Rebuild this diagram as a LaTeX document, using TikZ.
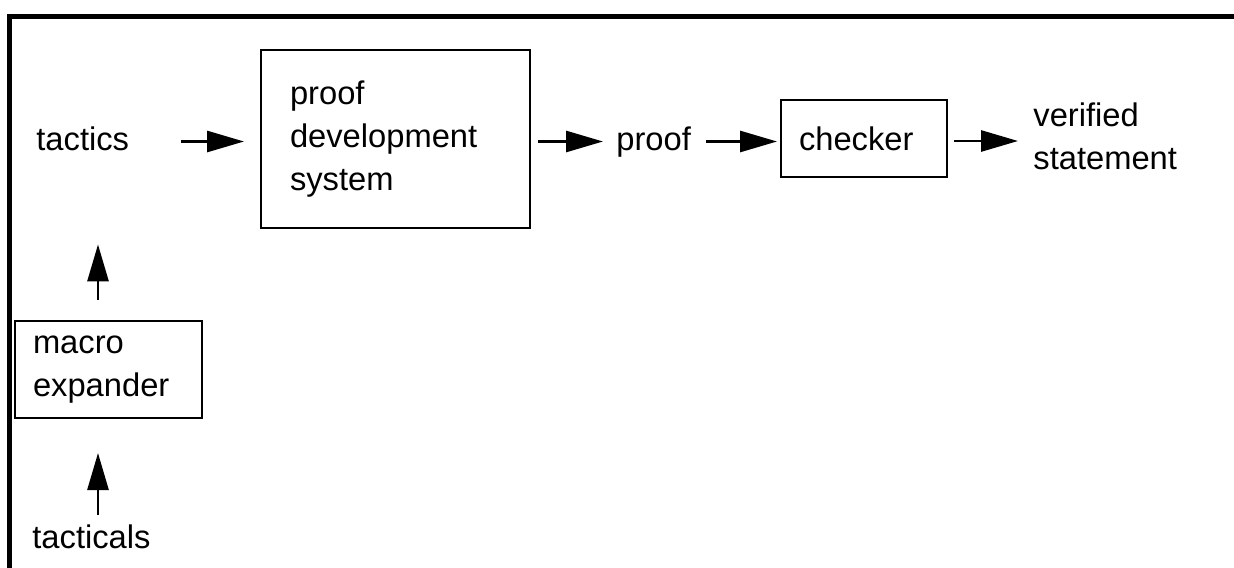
\documentclass[tikz,border=0pt]{standalone}
\usepackage{fontspec}
\setmainfont{Liberation Sans}
\usetikzlibrary{arrows.meta}
\begin{document}
\begin{tikzpicture}[x=0.5pt,y=-0.5pt,
  every node/.style={font=\fontsize{16.35pt}{21.7pt}\selectfont},
  lbl/.style={inner sep=0pt, text height=8.5pt, text depth=0pt, anchor=base west},
  box/.style={draw, line width=1pt, align=left, inner ysep=0pt},
  arr/.style={line width=1.4pt, -{Triangle[length=18.5pt,width=10.5pt]}},
  frameline/.style={line width=2.6pt}
]
\useasboundingbox (0,0) rectangle (1234,567);
\begin{scope}
  \clip (0,0) rectangle (1234,567);
  \draw[frameline] (9.5,600) -- (9.5,16.5) -- (1260,16.5);
\end{scope}

% boxes
\node[box, inner xsep=14.5pt, text width=105.5pt, minimum height=89pt] (pds) at (395.5,139) {proof\\development\\system};
\node[box, inner xsep=9pt, text width=65pt, minimum height=38.5pt] (checker) at (864,138.5) {checker};
\node[box, inner xsep=9pt, text width=75.5pt, minimum height=48.5pt] (macro) at (108.5,369.5) {macro\\expander};

% plain labels
\node[lbl] (tactics) at (36,150) {tactics};
\node[lbl] (tacticals) at (32,548) {tacticals};
\node[lbl] (proof) at (616,150) {proof};
\node[inner sep=0pt, align=left, anchor=west] (verif) at (1033,136.5) {verified\\statement};

% main chain
\draw[arr, shorten <=26pt, shorten >=8pt] (tactics.east) -- (tactics.east -| pds.west);
\draw[arr, shorten <=3.5pt, shorten >=6.5pt] (proof.west -| pds.east) -- (proof.west);
\draw[arr, shorten <=7.5pt, shorten >=1.5pt] (proof.east) -- (proof.east -| checker.west);
\draw[arr, shorten <=3pt, shorten >=7.5pt] ([yshift=-1.25pt]checker.east) -- ([yshift=-1.25pt]checker.east -| verif.west);

% feeding the tactics
\draw[arr, shorten <=10pt, shorten >=47pt] ([xshift=-5.25pt]macro.north) -- ([xshift=-5.25pt]macro.north |- tactics.south);
\draw[arr, shorten <=8pt, shorten >=17pt] ([xshift=-5.25pt]macro.south |- tacticals.north) -- ([xshift=-5.25pt]macro.south);
\end{tikzpicture}
\end{document}
